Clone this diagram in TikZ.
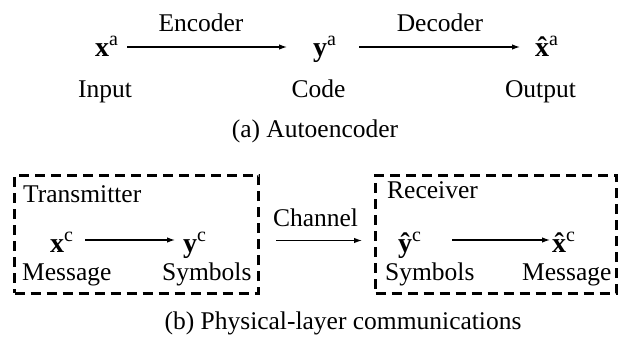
\documentclass[tikz,border=0pt]{standalone}
\usepackage{fontspec}
\setmainfont{Liberation Serif}
\usetikzlibrary{arrows.meta}

% bold letter with an upright superscript
\newcommand{\bsym}[2]{{\fontsize{28}{30}\selectfont\textbf{#1}}\raisebox{11pt}{\fontsize{20}{20}\selectfont #2}}
% bold letter with a circumflex centred over it, then the superscript
\newcommand{\bhat}[1]{{\fontsize{28}{30}\selectfont\setbox0\hbox{\textbf{#1}}%
  \rlap{\hbox to \wd0{\hss\textbf{\char"02C6}\hss}}\box0}}
\newcommand{\bhsym}[2]{\bhat{#1}\raisebox{11pt}{\fontsize{20}{20}\selectfont #2}}

\begin{document}
\begin{tikzpicture}[x=1pt,y=-1pt,
  lbl/.style={inner sep=0pt, font=\fontsize{25.5}{30}\selectfont},
  symtop/.style={inner sep=0pt, text height=18pt, text depth=0pt, anchor=base west},
  symbot/.style={inner sep=0pt, text height=24pt, text depth=0pt, anchor=base west},
  arr/.style={line width=1.2pt, -{Latex[length=8pt,width=5.5pt]}},
  dbox/.style={draw, line width=3pt, dash pattern=on 10pt off 6pt, inner sep=0pt, anchor=north west}]
\useasboundingbox (0,0) rectangle (619,343);

% (a) autoencoder
\node[symtop] (xa) at (95,56) {\bsym{x}{a}};
\node[symtop] (ya) at (313,56) {\bsym{y}{a}};
\node[symtop] (xha) at (535,56) {\bhsym{x}{a}};
\node[lbl, anchor=base] (enc) at (201,31) {Encoder};
\node[lbl, anchor=base] (dec) at (440,31) {Decoder};
\node[lbl, anchor=base] (inp) at (105,97) {Input};
\node[lbl, anchor=base] (code) at (318.5,97) {Code};
\node[lbl, anchor=base] (outp) at (540.5,97) {Output};
\node[lbl, anchor=base] (capa) at (315,137) {(a) Autoencoder};
\draw[arr, shorten <=9pt, shorten >=26pt] (xa) -- (ya);
\draw[arr, shorten <=23pt, shorten >=15pt] (ya) -- (xha);

% (b) physical-layer communications
\node[dbox, minimum width=244pt, minimum height=118pt] (tx) at (13,173.5) {};
\node[dbox, minimum width=241pt, minimum height=118pt] (rx) at (374,173.5) {};
\node[lbl, anchor=base west] (txt) at (23,202) {Transmitter};
\node[lbl, anchor=base west] (rxt) at (387,198) {Receiver};
\node[symbot] (xc) at (50,252) {\bsym{x}{c}};
\node[symbot] (yc) at (183,252) {\bsym{y}{c}};
\node[symbot] (yhc) at (398,252) {\bsym{ŷ}{c}};
\node[symbot] (xhc) at (552,252) {\bhsym{x}{c}};
\node[lbl, anchor=base west] (msg1) at (22,280) {Message};
\node[lbl, anchor=base west] (sym1) at (162,280) {Symbols};
\node[lbl, anchor=base west] (sym2) at (385,280) {Symbols};
\node[lbl, anchor=base west] (msg2) at (522,280) {Message};
\node[lbl, anchor=base] (chan) at (315.5,226) {Channel};
\node[lbl, anchor=base] (capb) at (343,329) {(b) Physical-layer communications};
\draw[arr, shorten <=12pt, shorten >=8pt] (xc) -- (yc);
\draw[arr, shorten <=31pt, shorten >=2pt] (yhc) -- (xhc);
\draw[arr, shorten <=16pt, shorten >=12pt] ([yshift=-6.5pt]tx.east) -- ([yshift=-6.5pt]rx.west);
\end{tikzpicture}
\end{document}
